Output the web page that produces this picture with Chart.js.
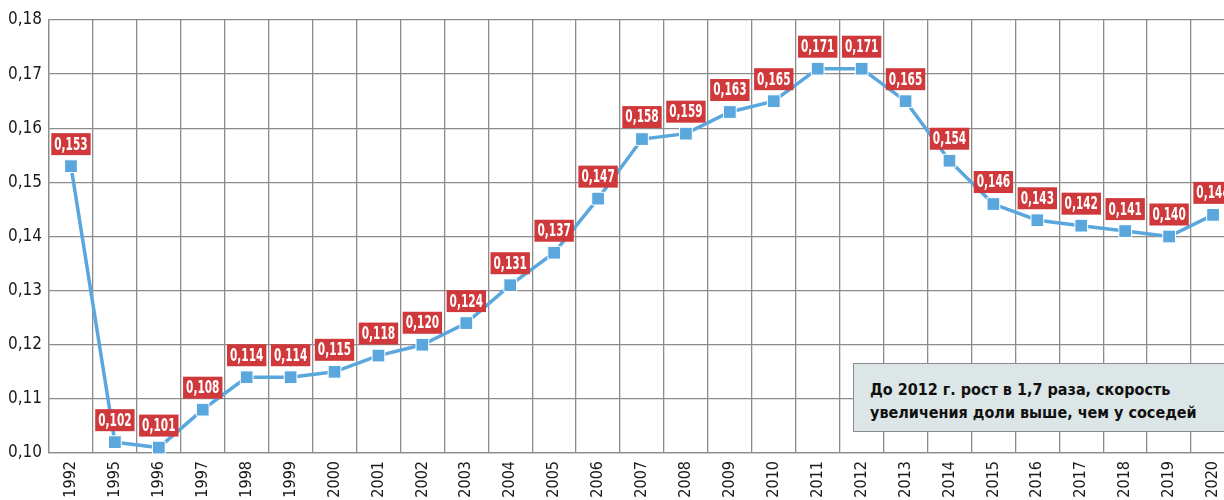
<!DOCTYPE html>
<html>
<head>
<meta charset="utf-8">
<script src="https://cdn.jsdelivr.net/npm/chart.js@4.4.1/dist/chart.umd.min.js"></script>
<style>
  html, body { margin: 0; padding: 0; background: #fff; overflow: hidden; width: 1224px; height: 500px; }
  #wrap { position: relative; width: 1245px; height: 500px; }
  #note {
    position: absolute; left: 853px; top: 363px; width: 400px; height: 69px;
    background: #dce6e6; border: 1px solid #8a8a8a; box-sizing: border-box;
    font-family: "Liberation Sans Narrow", "DejaVu Sans Condensed", sans-serif;
    font-weight: bold; font-size: 16px; line-height: 23px; color: #111;
    padding: 14px 0 0 16px;
  }
</style>
</head>
<body>
<div id="wrap">
  <canvas id="c" width="1245" height="500"></canvas>
  <div id="note">До 2012 г. рост в 1,7 раза, скорость<br>увеличения доли выше, чем у соседей</div>
</div>
<script>
const categories = ['1992','1995','1996','1997','1998','1999','2000','2001','2002','2003','2004','2005','2006','2007','2008','2009','2010','2011','2012','2013','2014','2015','2016','2017','2018','2019','2020'];
const shareValues = [0.153,0.102,0.101,0.108,0.114,0.114,0.115,0.118,0.120,0.124,0.131,0.137,0.147,0.158,0.159,0.163,0.165,0.171,0.171,0.165,0.154,0.146,0.143,0.142,0.141,0.140,0.144];
const yTicks = [0.10,0.11,0.12,0.13,0.14,0.15,0.16,0.17,0.18];

const FONT = '"Liberation Sans Narrow", "DejaVu Sans Condensed", sans-serif';
const fmt = v => v.toFixed(3).replace('.', ',');

const labelPlugin = {
  id: 'valueLabels',
  afterDatasetsDraw(chart) {
    const ctx = chart.ctx;
    const meta = chart.getDatasetMeta(0);
    const sx = 0.69;
    ctx.save();
    ctx.font = 'bold 17px ' + FONT;
    ctx.textAlign = 'center';
    ctx.textBaseline = 'middle';
    meta.data.forEach((pt, i) => {
      const txt = fmt(shareValues[i]);
      const w = ctx.measureText(txt).width * sx + 6;
      const h = 22;
      const cx = pt.x, cy = pt.y - 22;
      ctx.fillStyle = '#d0393b';
      ctx.fillRect(cx - w / 2, cy - h / 2, w, h);
      ctx.save();
      ctx.translate(cx, cy + 1);
      ctx.scale(sx, 1);
      ctx.fillStyle = '#ffffff';
      ctx.fillText(txt, 0, 0);
      ctx.restore();
    });
    ctx.restore();
  }
};

new Chart(document.getElementById('c'), {
  type: 'line',
  data: {
    labels: categories,
    datasets: [{
      data: shareValues,
      borderColor: '#5aa7de',
      backgroundColor: '#5aa7de',
      borderWidth: 3.5,
      pointStyle: 'rect',
      pointRadius: 9,
      pointBorderWidth: 1,
      pointBorderColor: '#ffffff',
      tension: 0,
      clip: false
    }]
  },
  options: {
    responsive: false,
    animation: false,
    devicePixelRatio: 1,
    layout: { padding: { top: 20, right: 6, left: 0, bottom: 0 } },
    plugins: { legend: { display: false }, tooltip: { enabled: false } },
    scales: {
      x: {
        type: 'category',
        offset: true,
        grid: { offset: true, color: '#8c8c8c', lineWidth: 1.3, drawTicks: false },
        border: { color: '#8c8c8c', width: 1.3 },
        ticks: {
          minRotation: 90, maxRotation: 90, autoSkip: false, padding: 8,
          color: '#1a1a1a', font: { family: FONT, size: 16 }
        },
        afterFit(scale) { scale.height = 47; }
      },
      y: {
        min: 0.10, max: 0.18,
        afterBuildTicks(scale) { scale.ticks = yTicks.map(v => ({ value: v })); },
        grid: { color: '#8c8c8c', lineWidth: 1.3, drawTicks: false },
        border: { color: '#8c8c8c', width: 1.3 },
        ticks: {
          padding: 7, color: '#1a1a1a', font: { family: FONT, size: 17 },
          callback: v => v.toFixed(2).replace('.', ',')
        },
        afterFit(scale) { scale.width = 49; }
      }
    }
  },
  plugins: [labelPlugin]
});
</script>
</body>
</html>
